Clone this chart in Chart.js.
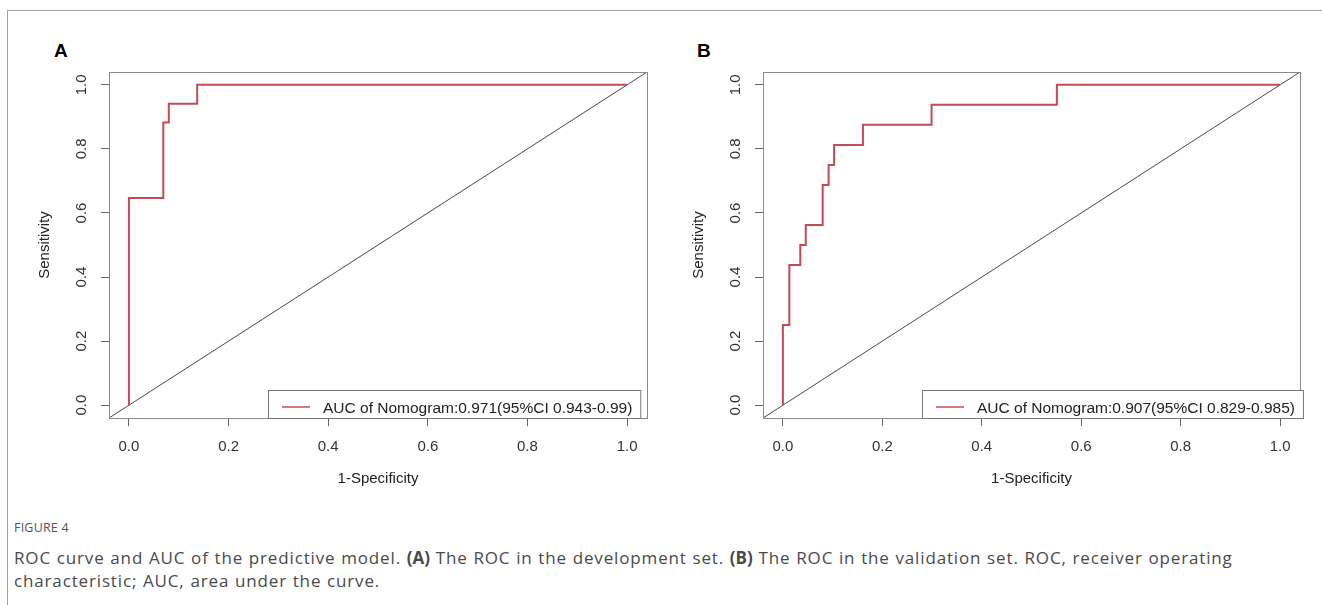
<!DOCTYPE html>
<html>
<head>
<meta charset="utf-8">
<script src="https://cdn.jsdelivr.net/npm/chart.js@4.4.1/dist/chart.umd.min.js"></script>
<style>
    html, body { margin: 0; padding: 0; background: #fff; overflow: hidden; }
    body { width: 1322px; height: 605px; position: relative; }
    .frame { position: absolute; left: 7px; top: 10px; width: 1400px; height: 700px; border-left: 1px solid #a0a0a0; border-top: 1px solid #a0a0a0; }
    .panel-label { position: absolute; font: bold 19px "Liberation Sans", Arial, sans-serif; line-height: 19px; color: #000; }
    canvas { position: absolute; }
    .fig-no { position: absolute; left: 14px; top: 520px; font: 12.5px "Open Sans", sans-serif; line-height: 16px; color: #555; letter-spacing: 0.2px; }
    .caption { position: absolute; left: 14px; top: 546px; width: 1260px; font: 17px "Open Sans", sans-serif; line-height: 23px; color: #4a4a4a; letter-spacing: 0.85px; word-spacing: 0.5px; }
    .caption b { font-weight: 700; letter-spacing: 0; }
</style>
</head>
<body>
<div class="frame"></div>
<div class="panel-label" style="left:54px; top:41px;">A</div>
<div class="panel-label" style="left:697px; top:41px;">B</div>
<canvas id="devChart" width="650" height="440" style="left:20px; top:60px;"></canvas>
<canvas id="valChart" width="648" height="440" style="left:674px; top:60px;"></canvas>
<div class="fig-no">FIGURE 4</div>
<div class="caption">ROC curve and AUC of the predictive model. <b>(A)</b> The ROC in the development set. <b>(B)</b> The ROC in the validation set. ROC, receiver operating characteristic; AUC, area under the curve.</div>

<script>
// axis ticks shared by both panels
const tickVals = [0, 0.2, 0.4, 0.6, 0.8, 1.0];
const axisMin = -0.04;
const axisMax = 1.04;

// development set ROC (1-specificity, sensitivity)
const devFpr = [0, 0, 0.069, 0.069, 0.080, 0.080, 0.137, 0.137, 1];
const devTpr = [0, 0.647, 0.647, 0.882, 0.882, 0.941, 0.941, 1, 1];
const devLabel = 'AUC of Nomogram:0.971(95%CI 0.943-0.99)';

// validation set ROC
const valFpr = [0, 0, 0.013, 0.013, 0.035, 0.035, 0.046, 0.046, 0.080, 0.080, 0.092, 0.092, 0.103, 0.103, 0.161, 0.161, 0.299, 0.299, 0.551, 0.551, 1];
const valTpr = [0, 0.25, 0.25, 0.4375, 0.4375, 0.5, 0.5, 0.5625, 0.5625, 0.6875, 0.6875, 0.75, 0.75, 0.8125, 0.8125, 0.875, 0.875, 0.9375, 0.9375, 1, 1];
const valLabel = 'AUC of Nomogram:0.907(95%CI 0.829-0.985)';

const rocRed = '#c24b56';
const fontFamily = '"Liberation Sans", Arial, sans-serif';

// box, rotated y tick labels and legend, R style
const rocExtras = {
    id: 'rocExtras',
    afterDraw(chart) {
        const ctx = chart.ctx;
        const area = chart.chartArea;
        const yScale = chart.scales.y;

        ctx.save();
        ctx.strokeStyle = '#8a8a8a';
        ctx.lineWidth = 1;
        ctx.strokeRect(area.left + 0.5, area.top + 0.5, area.right - area.left, area.bottom - area.top);

        ctx.fillStyle = '#333';
        ctx.font = '15px ' + fontFamily;
        ctx.textAlign = 'center';
        ctx.textBaseline = 'middle';
        tickVals.forEach(v => {
            const y = yScale.getPixelForValue(v);
            ctx.save();
            ctx.translate(area.left - 27, y);
            ctx.rotate(-Math.PI / 2);
            ctx.fillText(v.toFixed(1), 0, 0);
            ctx.restore();
        });

        const label = chart.data.datasets[0].label;
        ctx.font = '15.5px ' + fontFamily;
        const textW = ctx.measureText(label).width;
        const boxL = area.left + 159;
        const boxT = area.bottom - 28;
        const boxW = textW + 63;
        ctx.fillStyle = '#fff';
        ctx.fillRect(boxL, boxT, boxW, 28);
        ctx.strokeStyle = '#777';
        ctx.strokeRect(boxL + 0.5, boxT + 0.5, boxW, 28);

        ctx.strokeStyle = rocRed;
        ctx.lineWidth = 1.5;
        ctx.beginPath();
        ctx.moveTo(boxL + 14, boxT + 17);
        ctx.lineTo(boxL + 42, boxT + 17);
        ctx.stroke();

        ctx.fillStyle = '#222';
        ctx.textAlign = 'left';
        ctx.textBaseline = 'alphabetic';
        ctx.fillText(label, boxL + 55, boxT + 22.5);
        ctx.restore();
    }
};

function rocChart(canvasId, fpr, tpr, label, rightPad) {
    const ctx = document.getElementById(canvasId);
    const data = {
        datasets: [{
            label: label,
            data: fpr.map((x, i) => ({ x: x, y: tpr[i] })),
            borderColor: rocRed,
            borderWidth: 2,
            pointRadius: 0,
            fill: false,
            tension: 0
        }, {
            label: 'reference',
            data: [{ x: axisMin, y: axisMin }, { x: axisMax, y: axisMax }],
            borderColor: '#4a4a4a',
            borderWidth: 1,
            pointRadius: 0,
            fill: false
        }]
    };

    const config = {
        type: 'line',
        data: data,
        options: {
            responsive: false,
            animation: false,
            layout: { padding: { top: 12, right: rightPad, left: 0, bottom: 0 } },
            plugins: { legend: { display: false }, tooltip: { enabled: false } },
            scales: {
                x: {
                    type: 'linear',
                    min: axisMin,
                    max: axisMax,
                    afterBuildTicks: s => { s.ticks = tickVals.map(v => ({ value: v })); },
                    afterFit: s => { s.height = 82; },
                    grid: { drawOnChartArea: false, tickLength: 8, color: '#666' },
                    border: { display: false },
                    ticks: { padding: 12, color: '#333', maxRotation: 0, font: { size: 15, family: fontFamily }, callback: v => v.toFixed(1) },
                    title: { display: true, text: '1-Specificity', color: '#222', font: { size: 15, family: fontFamily }, padding: { top: 0, bottom: 12 } }
                },
                y: {
                    type: 'linear',
                    min: axisMin,
                    max: axisMax,
                    afterBuildTicks: s => { s.ticks = tickVals.map(v => ({ value: v })); },
                    afterFit: s => { s.width = 89; },
                    grid: { drawOnChartArea: false, tickLength: 8, color: '#666' },
                    border: { display: false },
                    ticks: { display: false },
                    title: { display: true, text: 'Sensitivity', color: '#222', font: { size: 15, family: fontFamily }, padding: { top: 16, bottom: 0 } }
                }
            }
        },
        plugins: [rocExtras]
    };

    new Chart(ctx, config);
}

rocChart('devChart', devFpr, devTpr, devLabel, 23);
rocChart('valChart', valFpr, valTpr, valLabel, 22);
</script>
</body>
</html>
